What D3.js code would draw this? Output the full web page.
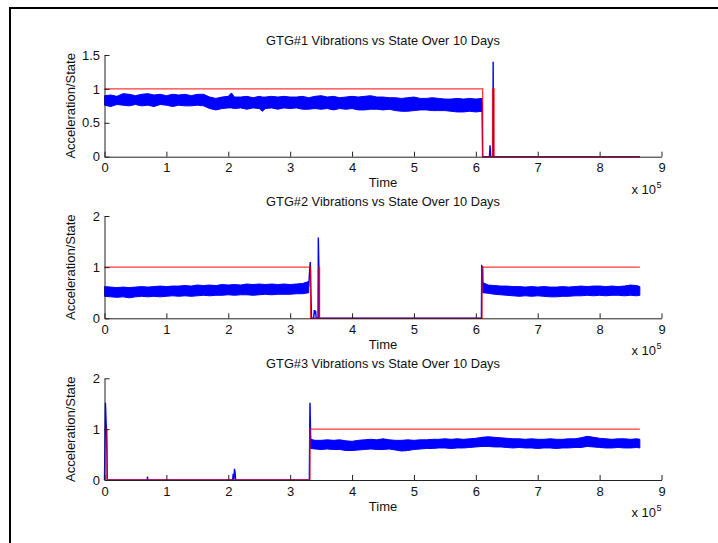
<!DOCTYPE html>
<html>
<head>
<meta charset="utf-8">
<script src="https://cdn.jsdelivr.net/npm/d3@7"></script>
<style>
  html, body { margin: 0; padding: 0; background: #fff; }
  svg { display: block; font-family: "Liberation Sans", Arial, Helvetica, sans-serif; }
</style>
</head>
<body>
<svg id="chart" width="718" height="543"></svg>
<script>
// ---------- DATA (time in units of 1e5) ----------
const titles = [
  "GTG#1 Vibrations vs State Over 10 Days",
  "GTG#2 Vibrations vs State Over 10 Days",
  "GTG#3 Vibrations vs State Over 10 Days"
];
const xTicks = [0, 1, 2, 3, 4, 5, 6, 7, 8, 9];
const yTicks1 = [0, 0.5, 1, 1.5];
const yTicks2 = [0, 1, 2];
const yTicks3 = [0, 1, 2];
const yMax = [1.5, 2, 2];

// vibration envelope bands: [time, low, high]
const band1 = [[0,0.76,0.90],[0.1,0.74,0.91],[0.2,0.77,0.89],[0.3,0.76,0.93],[0.4,0.75,0.92],[0.5,0.77,0.90],[0.6,0.75,0.92],[0.7,0.76,0.93],[0.8,0.74,0.91],[0.9,0.77,0.92],[1.0,0.76,0.90],[1.1,0.74,0.92],[1.2,0.76,0.91],[1.3,0.75,0.92],[1.4,0.75,0.90],[1.5,0.76,0.92],[1.6,0.75,0.92],[1.7,0.71,0.88],[1.8,0.69,0.86],[1.9,0.71,0.88],[2.0,0.72,0.89],[2.05,0.72,0.94],[2.1,0.71,0.88],[2.2,0.72,0.88],[2.3,0.70,0.89],[2.4,0.72,0.87],[2.5,0.71,0.89],[2.55,0.67,0.88],[2.6,0.71,0.88],[2.7,0.72,0.89],[2.8,0.70,0.88],[2.9,0.72,0.89],[3.0,0.71,0.88],[3.1,0.72,0.88],[3.2,0.70,0.89],[3.3,0.70,0.87],[3.4,0.71,0.89],[3.5,0.70,0.90],[3.6,0.71,0.88],[3.7,0.69,0.89],[3.8,0.71,0.87],[3.9,0.70,0.88],[4.0,0.71,0.89],[4.1,0.69,0.88],[4.2,0.69,0.89],[4.3,0.70,0.90],[4.4,0.70,0.88],[4.5,0.69,0.88],[4.6,0.70,0.87],[4.7,0.68,0.87],[4.8,0.67,0.86],[4.9,0.67,0.87],[5.0,0.68,0.88],[5.1,0.69,0.86],[5.2,0.69,0.86],[5.3,0.68,0.87],[5.4,0.68,0.86],[5.5,0.68,0.85],[5.6,0.67,0.85],[5.7,0.66,0.86],[5.8,0.66,0.85],[5.9,0.67,0.86],[6.0,0.66,0.85],[6.1,0.67,0.86]];
const band2a = [[0,0.43,0.62],[0.1,0.42,0.61],[0.2,0.41,0.60],[0.3,0.42,0.61],[0.4,0.40,0.60],[0.5,0.42,0.61],[0.6,0.43,0.62],[0.7,0.42,0.61],[0.8,0.43,0.62],[0.9,0.42,0.63],[1.0,0.43,0.62],[1.1,0.44,0.63],[1.2,0.43,0.63],[1.3,0.44,0.64],[1.4,0.43,0.63],[1.5,0.44,0.65],[1.6,0.45,0.64],[1.7,0.44,0.65],[1.8,0.45,0.64],[1.9,0.45,0.66],[2.0,0.46,0.65],[2.1,0.45,0.66],[2.2,0.46,0.65],[2.3,0.46,0.67],[2.4,0.45,0.66],[2.5,0.46,0.67],[2.6,0.47,0.66],[2.7,0.46,0.67],[2.8,0.47,0.66],[2.9,0.47,0.67],[3.0,0.47,0.66],[3.1,0.48,0.67],[3.2,0.48,0.68],[3.3,0.50,0.72]];
const band2b = [[6.11,0.50,0.70],[6.2,0.49,0.65],[6.3,0.47,0.64],[6.4,0.46,0.63],[6.5,0.45,0.63],[6.6,0.44,0.62],[6.7,0.43,0.62],[6.8,0.44,0.61],[6.9,0.43,0.62],[7.0,0.44,0.61],[7.1,0.43,0.62],[7.2,0.42,0.61],[7.3,0.42,0.61],[7.4,0.43,0.62],[7.5,0.43,0.61],[7.6,0.44,0.62],[7.7,0.44,0.63],[7.8,0.45,0.62],[7.9,0.44,0.63],[8.0,0.45,0.63],[8.1,0.44,0.62],[8.2,0.45,0.63],[8.3,0.45,0.62],[8.4,0.44,0.63],[8.5,0.45,0.65],[8.6,0.44,0.64],[8.65,0.45,0.62]];
const band3 = [[3.33,0.62,0.80],[3.4,0.61,0.78],[3.5,0.60,0.78],[3.6,0.61,0.79],[3.7,0.60,0.78],[3.8,0.60,0.79],[3.9,0.58,0.77],[4.0,0.58,0.76],[4.1,0.59,0.78],[4.2,0.60,0.79],[4.3,0.61,0.80],[4.4,0.60,0.79],[4.5,0.60,0.81],[4.6,0.61,0.79],[4.7,0.59,0.78],[4.8,0.57,0.78],[4.9,0.58,0.79],[5.0,0.60,0.78],[5.1,0.61,0.79],[5.2,0.62,0.79],[5.3,0.62,0.80],[5.4,0.63,0.80],[5.5,0.63,0.81],[5.6,0.62,0.80],[5.7,0.63,0.81],[5.8,0.63,0.80],[5.9,0.64,0.81],[6.0,0.65,0.82],[6.1,0.66,0.84],[6.2,0.66,0.85],[6.3,0.65,0.84],[6.4,0.65,0.83],[6.5,0.64,0.82],[6.6,0.63,0.81],[6.7,0.64,0.81],[6.8,0.63,0.80],[6.9,0.63,0.81],[7.0,0.62,0.80],[7.1,0.63,0.80],[7.2,0.63,0.81],[7.3,0.62,0.80],[7.4,0.63,0.80],[7.5,0.63,0.81],[7.6,0.64,0.81],[7.7,0.64,0.83],[7.8,0.66,0.86],[7.9,0.65,0.84],[8.0,0.64,0.82],[8.1,0.63,0.81],[8.2,0.63,0.80],[8.3,0.64,0.81],[8.4,0.63,0.81],[8.5,0.63,0.80],[8.6,0.64,0.81],[8.65,0.63,0.80]];

// vibration traces outside the bands: [time, value]
const vib1 = [[6.10,0.80],[6.11,0],[6.22,0],[6.23,0.17],[6.24,0],[6.275,0],[6.28,1.40],[6.285,0],[8.65,0]];
const vib2 = [[3.30,0.62],[3.315,0.95],[3.325,1.10],[3.335,0.50],[3.345,0],[3.38,0],[3.39,0.16],[3.40,0.08],[3.41,0.15],[3.42,0],[3.45,0],[3.455,1.58],[3.465,0.90],[3.47,0],[6.09,0],[6.095,1.02],[6.11,1.00],[6.115,0.65]];
const vib3 = [[0,0],[0.015,1.52],[0.03,1.00],[0.04,0.50],[0.045,0],[0.69,0],[0.695,0.07],[0.70,0],[2.07,0],[2.08,0.12],[2.09,0],[2.10,0.22],[2.11,0.15],[2.12,0],[3.31,0],[3.32,1.52],[3.33,0.90],[3.335,0.70]];

// state (on/off): [time, value]
const state1 = [[0,1],[6.11,1],[6.11,0],[6.27,0],[6.27,1],[6.295,1],[6.295,0],[8.65,0]];
const state2 = [[0,1],[3.33,1],[3.33,0],[3.465,0],[3.465,1],[3.475,1],[3.475,0],[6.10,0],[6.10,1],[8.65,1]];
const state3 = [[0,1],[0.04,1],[0.04,0],[3.32,0],[3.32,1],[8.65,1]];

// ---------- DRAW ----------
const svg = d3.select("#chart");
const FONT = 13;

// figure frame
svg.append("path")
  .attr("d", "M10,543V8H718")
  .attr("fill", "none").attr("stroke", "#000").attr("stroke-width", 2);

const x = d3.scaleLinear().domain([0, 9]).range([104.5, 661.5]);

const panels = [
  { title: titles[0], yTicks: yTicks1, ymax: yMax[0], top: 55, bottom: 156.7, bands: [band1], vib: vib1, state: state1 },
  { title: titles[1], yTicks: yTicks2, ymax: yMax[1], top: 216, bottom: 318.3, bands: [band2a, band2b], vib: vib2, state: state2 },
  { title: titles[2], yTicks: yTicks3, ymax: yMax[2], top: 378.3, bottom: 480, bands: [band3], vib: vib3, state: state3 }
];

panels.forEach(p => {
  const y = d3.scaleLinear().domain([0, p.ymax]).range([p.bottom, p.top]);
  const g = svg.append("g");

  // blue bands
  const area = d3.area().x(d => x(d[0])).y0(d => y(d[1])).y1(d => y(d[2]));
  p.bands.forEach(b => {
    g.append("path").attr("d", area(b))
      .attr("fill", "#0000ff").attr("stroke", "#0000ff").attr("stroke-width", 1)
      .attr("stroke-linejoin", "miter");
  });
  const line = d3.line().x(d => x(d[0])).y(d => y(d[1]));
  g.append("path").attr("d", line(p.vib))
    .attr("fill", "none").attr("stroke", "#0000ff").attr("stroke-width", 1.4);

  // red state
  g.append("path").attr("d", line(p.state))
    .attr("fill", "none").attr("stroke", "#ff0000").attr("stroke-opacity", 0.78).attr("stroke-width", 1.3);

  // axes
  const xa = svg.append("g").attr("transform", `translate(0,${p.bottom})`)
    .call(d3.axisBottom(x).tickValues(xTicks).tickFormat(d3.format("d")).tickSizeInner(-5).tickSizeOuter(0).tickPadding(6.5));
  const ya = svg.append("g").attr("transform", `translate(${x(0)},0)`)
    .call(d3.axisLeft(y).tickValues(p.yTicks).tickFormat(d3.format("")).tickSizeInner(-5).tickSizeOuter(0).tickPadding(4.5));
  [xa, ya].forEach(a => {
    a.select(".domain").attr("stroke", "#222");
    a.selectAll(".tick line").attr("stroke", "#222");
    a.selectAll(".tick text").attr("fill", "#111").style("font-size", FONT + "px").style("font-family", "Liberation Sans, Arial, sans-serif");
  });

  // title
  svg.append("text").attr("x", (x(0) + x(9)) / 2).attr("y", p.top - 10.5)
    .attr("text-anchor", "middle").attr("fill", "#111").style("font-size", "12.8px")
    .text(p.title);
  // x label
  svg.append("text").attr("x", (x(0) + x(9)) / 2).attr("y", p.bottom + 30.6)
    .attr("text-anchor", "middle").attr("fill", "#111").style("font-size", FONT + "px")
    .text("Time");
  // exponent
  svg.append("text").attr("x", 656).attr("y", p.bottom + 37)
    .attr("text-anchor", "end").attr("fill", "#111").style("font-size", FONT + "px")
    .text("x 10");
  svg.append("text").attr("x", 656.5).attr("y", p.bottom + 31)
    .attr("fill", "#111").style("font-size", "9px").text("5");
  // y label
  svg.append("text")
    .attr("transform", `translate(75,${(p.top + p.bottom) / 2}) rotate(-90)`)
    .attr("text-anchor", "middle").attr("fill", "#111").style("font-size", FONT + "px")
    .text("Acceleration/State");
});
</script>
</body>
</html>
